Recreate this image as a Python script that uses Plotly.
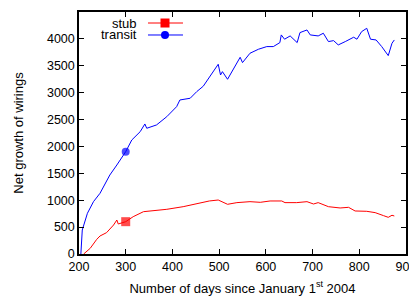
import plotly.graph_objects as go

# ---- data ----
transit_days = [204, 207, 218, 231, 245, 266, 281, 300, 313, 331, 341, 345, 366, 388, 409, 416, 438,
                452, 466, 479, 488, 498, 503, 507, 518, 527, 538, 545, 550, 566, 584, 602, 616, 630,
                633, 640, 652, 667, 673, 688, 695, 712, 723, 734, 745, 755, 770, 788, 795, 805, 816,
                824, 836, 848, 862, 870, 875]
transit_vals = [0, 446, 757, 973, 1129, 1469, 1655, 1903, 2120, 2275, 2418, 2338, 2400, 2554, 2740, 2864, 2896,
                3019, 3120, 3286, 3422, 3528, 3329, 3391, 3249, 3391, 3547, 3658, 3559, 3733, 3807, 3857, 3857, 3931,
                4074, 3994, 4055, 3931, 4117, 4166, 4074, 4055, 4105, 3950, 3968, 3888, 3950, 4031, 3994, 4135, 4197,
                3994, 3980, 3857, 3689, 3919, 3980]

stub_days = [210, 224, 238, 245, 259, 274, 281, 284, 300, 316, 338, 359, 388, 423, 459, 479, 498, 507, 518,
             538, 566, 588, 609, 634, 641, 666, 688, 702, 712, 734, 759, 777, 791, 816, 834, 852, 862, 870, 875]
stub_vals = [0, 106, 273, 335, 397, 539, 632, 558, 601, 694, 787, 806, 831, 880, 950, 986, 1004, 973, 924,
             955, 973, 961, 986, 986, 955, 955, 973, 930, 955, 880, 856, 868, 800, 794, 769, 713, 682, 720, 707]

marker_day = 300
x_ticks = [200, 300, 400, 500, 600, 700, 800, 900]
y_ticks = [0, 500, 1000, 1500, 2000, 2500, 3000, 3500, 4000, 4500]

RED = "#ff0000"
BLUE = "#0000ff"
FONT = "Liberation Sans"

fig = go.Figure()
fig.add_trace(go.Scatter(
    x=stub_days, y=stub_vals, mode="lines+markers",
    line=dict(color=RED, width=1),
    marker=dict(symbol="square", color=RED, size=[9 if d == marker_day else 0 for d in stub_days],
                line=dict(width=0)),
    showlegend=False))
fig.add_trace(go.Scatter(
    x=transit_days, y=transit_vals, mode="lines+markers",
    line=dict(color=BLUE, width=1),
    marker=dict(symbol="circle", color=BLUE, size=[8 if d == marker_day else 0 for d in transit_days],
                line=dict(width=0)),
    showlegend=False))

# ---- legend drawn gnuplot-style (text then sample) ----
legend_items = [("stub", RED, "rect", 0.9545), ("transit", BLUE, "circle", 0.905)]
annotations = []
shapes = []
for name, col, sym, yy in legend_items:
    annotations.append(dict(text=name, x=0.1835, y=yy, xref="paper", yref="paper",
                            xanchor="right", yanchor="middle", showarrow=False,
                            font=dict(family=FONT, size=13, color="black")))
    shapes.append(dict(type="line", xref="paper", yref="paper", x0=0.211, x1=0.318, y0=yy, y1=yy,
                       line=dict(color=col, width=1)))
    r = 4.5 if sym == "rect" else 4
    shapes.append(dict(type=sym, xref="paper", yref="paper", xsizemode="pixel", ysizemode="pixel",
                       xanchor=0.263, yanchor=yy, x0=-r, x1=r, y0=-r, y1=r,
                       fillcolor=col, line=dict(width=0)))

axis_common = dict(showgrid=False, zeroline=False, showline=True, linecolor="black", linewidth=1.5,
                   mirror="allticks", ticks="inside", ticklen=5, tickcolor="black", tickwidth=1,
                   automargin=False,
                   tickfont=dict(family=FONT, size=12.5, color="black"))

# page body has an 8px default margin, so the figure is sized to fit the 417x300 window
fig.update_layout(
    width=409, height=292,
    margin=dict(l=71, r=11, t=4, b=46, autoexpand=False),
    paper_bgcolor="white", plot_bgcolor="white",
    font=dict(family=FONT, size=12, color="black"),
    xaxis=dict(range=[200, 900], tickvals=x_ticks, ticktext=[str(v) for v in x_ticks],
               title=dict(text="Number of days since January 1<sup>st</sup> 2004",
                          font=dict(family=FONT, size=13), standoff=11),
               **axis_common),
    yaxis=dict(range=[0, 4500], tickvals=y_ticks, ticktext=[str(v) for v in y_ticks],
               title=dict(text="Net growth of wirings", font=dict(family=FONT, size=13), standoff=20),
               **axis_common),
    annotations=annotations,
    shapes=shapes,
)

fig.write_html("out.html")
